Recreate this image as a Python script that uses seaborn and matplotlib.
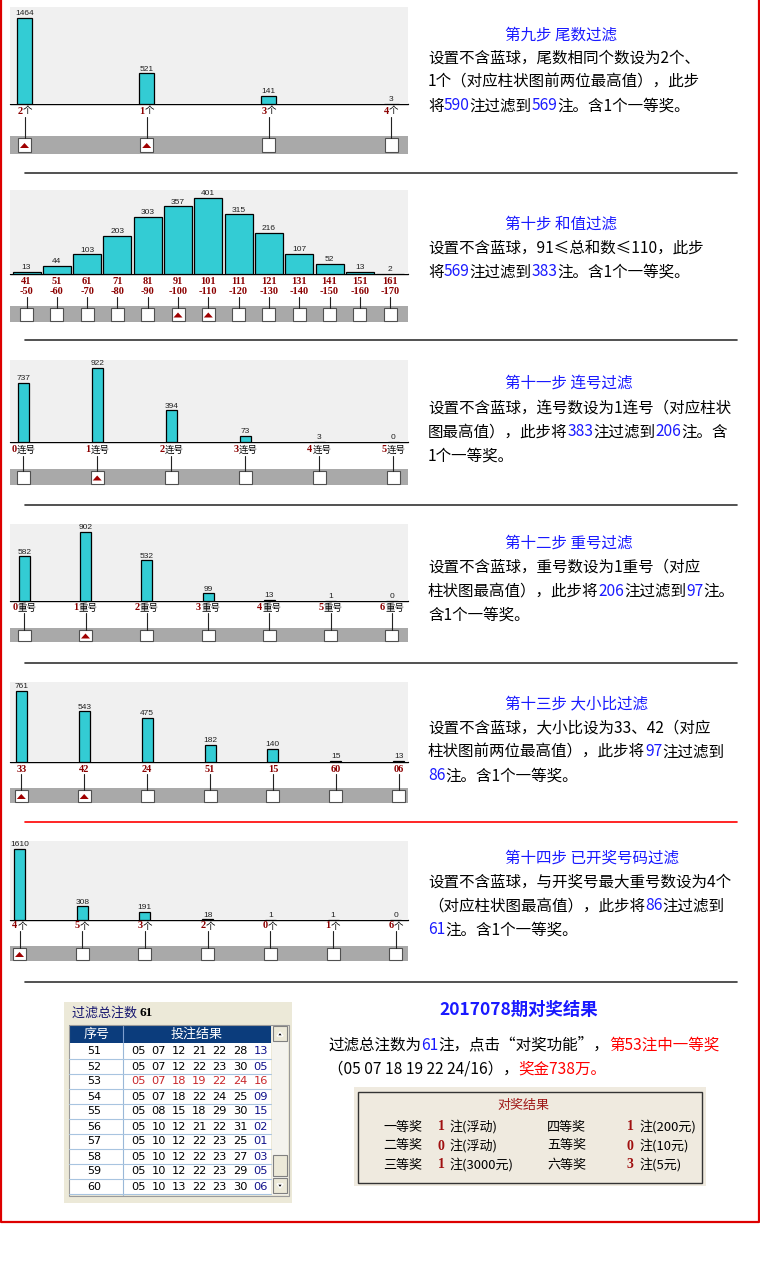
import matplotlib
matplotlib.use("Agg")  # headless rendering
import matplotlib.pyplot as plt
from matplotlib.patches import Rectangle, Polygon
import pandas as pd
import seaborn as sns

# ---- chart data -------------------------------------------------------
tail_cats = ["2", "1", "3", "4"]
tail_vals = [1464, 521, 141, 3]
tail_keep = [1, 1, 0, 0]

sum_lo = ["41", "51", "61", "71", "81", "91", "101", "111", "121", "131", "141", "151", "161"]
sum_hi = ["-50", "-60", "-70", "-80", "-90", "-100", "-110", "-120", "-130", "-140", "-150", "-160", "-170"]
sum_vals = [13, 44, 103, 203, 303, 357, 401, 315, 216, 107, 52, 13, 2]
sum_keep = [0, 0, 0, 0, 0, 1, 1, 0, 0, 0, 0, 0, 0]

run_cats = ["0", "1", "2", "3", "4", "5"]
run_vals = [737, 922, 394, 73, 3, 0]
run_keep = [0, 1, 0, 0, 0, 0]

rep_cats = ["0", "1", "2", "3", "4", "5", "6"]
rep_vals = [582, 902, 532, 99, 13, 1, 0]
rep_keep = [0, 1, 0, 0, 0, 0, 0]

ratio_cats = ["33", "42", "24", "51", "15", "60", "06"]
ratio_vals = [761, 543, 475, 182, 140, 15, 13]
ratio_keep = [1, 1, 0, 0, 0, 0, 0]

hit_cats = ["4", "5", "3", "2", "0", "1", "6"]
hit_vals = [1610, 308, 191, 18, 1, 1, 0]
hit_keep = [1, 0, 0, 0, 0, 0, 0]

NOTE = "柱状高代表出现概率大，勾选的为保留"

row_ids = ["51", "52", "53", "54", "55", "56", "57", "58", "59", "60"]
bets = [
    "05 07 12 21 22 28 13",
    "05 07 12 22 23 30 05",
    "05 07 18 19 22 24 16",
    "05 07 18 22 24 25 09",
    "05 08 15 18 29 30 15",
    "05 10 12 21 22 31 02",
    "05 10 12 22 23 25 01",
    "05 10 12 22 23 27 03",
    "05 10 12 22 23 29 05",
    "05 10 13 22 23 30 06",
]
win_row = "53"

prize_names = ["一等奖", "二等奖", "三等奖", "四等奖", "五等奖", "六等奖"]
prize_counts = ["1", "0", "1", "1", "0", "3"]
prize_notes = ["注(浮动)", "注(浮动)", "注(3000元)", "注(200元)", "注(10元)", "注(5元)"]

# ---- style -------------------------------------------------------------
W, H = 760, 1265
sns.set_theme(style="white")
FAM = ["Noto Sans CJK SC", "DejaVu Sans"]
plt.rcParams["font.family"] = FAM

BAR = "#33ccd4"
BG = "#f0f0f0"
STRIP = "#a9a9a9"
DRED = "#8b0000"
BLUE = "#1a1aff"
NOTEBLUE = "#2b2bff"
K = "black"

fig = plt.figure(figsize=(W / 100, H / 100), dpi=100)
fig.patch.set_facecolor("white")
ov = fig.add_axes([0, 0, 1, 1])
ov.set_xlim(0, W)
ov.set_ylim(H, 0)
ov.axis("off")
R = fig.canvas.get_renderer()


def px_axes(x0, y0, x1, y1):
    return fig.add_axes([x0 / W, 1 - y1 / H, (x1 - x0) / W, (y1 - y0) / H])


def rich(x, y, parts, ha="left", va="center"):
    # parts: (text, color, extra kwargs)
    texts = []
    for s, c, kw in parts:
        t = ov.text(x, y, s, color=c, ha="left", va=va, **kw)
        texts.append(t)
    widths = [t.get_window_extent(renderer=R).width for t in texts]
    start = x - sum(widths) / 2 if ha == "center" else x
    for t, w in zip(texts, widths):
        t.set_x(start)
        start += w
    return texts


NUMK = dict(fontsize=7.5, fontweight="bold", family="Liberation Serif")
SUFK = dict(fontsize=6.8, family=FAM)

panels = [
    dict(cats=tail_cats, sub=None, suffix="个", vals=tail_vals, keep=tail_keep,
         top=7, base=104, c0=24.5, step=122.2, bw=15, ly=111, conn=(117, 138),
         strip=(136, 154), box=(138, 152), ymax=1651, note_y=21),
    dict(cats=sum_lo, sub=sum_hi, suffix="", vals=sum_vals, keep=sum_keep,
         top=190, base=274, c0=26.5, step=30.3, bw=28, ly=281, conn=(297, 308),
         strip=(306, 322), box=(308, 321), ymax=443, note_y=None),
    dict(cats=run_cats, sub=None, suffix="连号", vals=run_vals, keep=run_keep,
         top=360, base=442, c0=23.2, step=74.0, bw=11, ly=450, conn=(456, 471),
         strip=(469, 485), box=(471, 484), ymax=1022, note_y=375),
    dict(cats=rep_cats, sub=None, suffix="重号", vals=rep_vals, keep=rep_keep,
         top=524, base=601, c0=24.2, step=61.3, bw=11, ly=608, conn=(613, 630),
         strip=(628, 642), box=(630, 641), ymax=1007, note_y=538),
    dict(cats=ratio_cats, sub=None, suffix="", vals=ratio_vals, keep=ratio_keep,
         top=682, base=762, c0=21.3, step=62.9, bw=11, ly=769, conn=(774, 790),
         strip=(788, 803), box=(790, 802), ymax=857, note_y=697),
    dict(cats=hit_cats, sub=None, suffix="个", vals=hit_vals, keep=hit_keep,
         top=841, base=920, c0=19.5, step=62.7, bw=11, ly=926, conn=(931, 948),
         strip=(946, 961), box=(948, 960), ymax=1791, note_y=856),
]

for p in panels:
    ax = px_axes(10, p["top"], 408, p["base"])
    df = pd.DataFrame({"cat": p["cats"], "val": p["vals"]})
    sns.barplot(data=df, x="cat", y="val", order=p["cats"], color=BAR, saturation=1,
                edgecolor="black", linewidth=0.9, width=p["bw"] / p["step"], ax=ax)
    ax.set_xlim((10 - p["c0"]) / p["step"], (408 - p["c0"]) / p["step"])
    ax.set_ylim(0, p["ymax"])
    ax.set_facecolor(BG)
    ax.set_xticks([])
    ax.set_yticks([])
    ax.set_xlabel("")
    ax.set_ylabel("")
    for s in ax.spines.values():
        s.set_visible(False)
    ax.bar_label(ax.containers[0], padding=0.5, fontsize=6, color="#222222",
                 family="Liberation Sans")

    # baseline and check strip
    ov.plot([10, 408], [p["base"], p["base"]], color="black", lw=1)
    s0, s1 = p["strip"]
    ov.add_patch(Rectangle((10, s0), 398, s1 - s0, fc=STRIP, ec="none"))
    b0, b1 = p["box"]
    for k, cat in enumerate(p["cats"]):
        cx = p["c0"] + k * p["step"]
        if p["sub"] is None:
            parts = [(cat, DRED, NUMK)]
            if p["suffix"]:
                parts.append((p["suffix"], K, SUFK))
            rich(cx, p["ly"], parts, ha="center")
        else:
            ov.text(cx, p["ly"], cat, color=DRED, ha="center", va="center", **NUMK)
            ov.text(cx, p["ly"] + 11, p["sub"][k], color=DRED, ha="center", va="center", **NUMK)
        ov.plot([cx, cx], p["conn"], color="#222222", lw=0.8)
        ov.add_patch(Rectangle((cx - 6.5, b0), 13, b1 - b0, fc="white", ec="#505050", lw=0.8))
        if p["keep"][k]:
            mid = (b0 + b1) / 2
            ov.add_patch(Polygon([(cx - 4.5, mid + 3), (cx + 4.5, mid + 3), (cx, mid - 2)],
                                 closed=True, fc="#a00000", ec="none"))
    if p["note_y"] is not None:
        ov.text(402, p["note_y"], NOTE, color=NOTEBLUE, fontsize=9.3, ha="right", va="center")
    else:
        ov.text(335, 202, "柱状高代表出现概率大，", color=NOTEBLUE, fontsize=9.3, ha="center", va="center")
        ov.text(335, 216, "勾选的为保留", color=NOTEBLUE, fontsize=9.3, ha="center", va="center")

# ---- right-hand explanations -----------------------------------------
steps = [
    ("第九步 尾数过滤", 35, [58, 82, 106], [
        [("设置不含蓝球，尾数相同个数设为2个、", K)],
        [("1个（对应柱状图前两位最高值），此步", K)],
        [("将", K), ("590", BLUE), ("注过滤到", K), ("569", BLUE), ("注。含1个一等奖。", K)]]),
    ("第十步 和值过滤", 224, [248, 272], [
        [("设置不含蓝球，91≤总和数≤110，此步", K)],
        [("将", K), ("569", BLUE), ("注过滤到", K), ("383", BLUE), ("注。含1个一等奖。", K)]]),
    ("第十一步 连号过滤", 383, [408, 432, 456], [
        [("设置不含蓝球，连号数设为1连号（对应柱状", K)],
        [("图最高值），此步将", K), ("383", BLUE), ("注过滤到", K), ("206", BLUE), ("注。含", K)],
        [("1个一等奖。", K)]]),
    ("第十二步 重号过滤", 543, [567, 591, 615], [
        [("设置不含蓝球，重号数设为1重号（对应", K)],
        [("柱状图最高值），此步将", K), ("206", BLUE), ("注过滤到", K), ("97", BLUE), ("注。", K)],
        [("含1个一等奖。", K)]]),
    ("第十三步 大小比过滤", 704, [728, 752, 776], [
        [("设置不含蓝球，大小比设为33、42（对应", K)],
        [("柱状图前两位最高值），此步将", K), ("97", BLUE), ("注过滤到", K)],
        [("86", BLUE), ("注。含1个一等奖。", K)]]),
    ("第十四步 已开奖号码过滤", 858, [882, 906, 930], [
        [("设置不含蓝球，与开奖号最大重号数设为4个", K)],
        [("（对应柱状图最高值），此步将", K), ("86", BLUE), ("注过滤到", K)],
        [("61", BLUE), ("注。含1个一等奖。", K)]]),
]
BODY = dict(fontsize=11.2, family=FAM)
for title, ty, ys, lines in steps:
    ov.text(505, ty, title, color=BLUE, fontsize=11.2, ha="left", va="center")
    for y, line in zip(ys, lines):
        rich(428, y, [(s, c, BODY) for s, c in line])

# separators and frame
for y, c in [(173, "#333333"), (340, "#333333"), (505, "#333333"), (663, "#333333"),
             (822, "red"), (982, "#333333")]:
    ov.plot([25, 737], [y, y], color=c, lw=1.2)
ov.plot([1, 1, 759, 759], [0, 1222, 1222, 0], color="#dd0000", lw=1.6)

# ---- result summary --------------------------------------------------
ov.text(519, 1010, "2017078期对奖结果", color=BLUE, fontsize=12.5, fontweight="bold",
        ha="center", va="center")
rich(328, 1045, [(s, c, BODY) for s, c in [
    ("过滤总注数为", K), ("61", BLUE), ("注，点击“对奖功能”，", K), ("第53注中一等奖", "red")]])
rich(328, 1069, [(s, c, BODY) for s, c in [
    ("（05 07 18 19 22 24/16），", K), ("奖金738万。", "red")]])

# ---- bet list widget -------------------------------------------------
ov.add_patch(Rectangle((64, 1002), 228, 201, fc="#ece9d8", ec="none"))
rich(72, 1013, [("过滤总注数 ", "#14146e", dict(fontsize=9.4, family=FAM)),
                ("61", K, dict(fontsize=9.5, fontweight="bold", family="Liberation Serif"))])
ov.add_patch(Rectangle((69, 1043), 202, 152, fc="white", ec="none"))
ov.add_patch(Rectangle((69, 1025), 202, 18, fc="#0b3c7c", ec="none"))
ov.plot([123, 123], [1026, 1042], color="#7f9fcf", lw=0.8)
ov.text(97, 1034, "序号", color="white", fontsize=9.4, ha="center", va="center")
ov.text(197, 1034, "投注结果", color="white", fontsize=9.4, ha="center", va="center")
ov.plot([123, 123], [1043, 1195], color="#9ab8d8", lw=0.8)
for i, (rid, bet) in enumerate(zip(row_ids, bets)):
    top = 1044 + 15 * i
    ov.plot([69, 271], [top + 15, top + 15], color="#a8c4e0", lw=0.8)
    ov.text(87, top + 7.5, rid, color=K, fontsize=8, family="DejaVu Sans", va="center")
    nums = bet.split()
    for j, n in enumerate(nums):
        if rid == win_row:
            col = "#c8282c"
        elif j == len(nums) - 1:
            col = "#10108a"
        else:
            col = K
        ov.text(131 + 20.4 * j, top + 7.5, n, color=col, fontsize=8.2, family="DejaVu Sans",
                va="center")
# scrollbar
ov.add_patch(Rectangle((272, 1025), 16, 170, fc="#f4f3ee", ec="none"))
for y0 in (1026, 1178):
    ov.add_patch(Rectangle((273, y0), 14, 15, fc="#ece9d8", ec="#808080", lw=0.8))
ov.add_patch(Rectangle((273, 1155), 14, 21, fc="#ece9d8", ec="#808080", lw=0.8))
ov.add_patch(Polygon([(277, 1036), (283, 1036), (280, 1032)], closed=True, fc="black"))
ov.add_patch(Polygon([(277, 1184), (283, 1184), (280, 1188)], closed=True, fc="black"))
ov.add_patch(Rectangle((68.5, 1024.5), 220, 171, fc="none", ec="#9a9a9a", lw=0.8))

# ---- prize box --------------------------------------------------------
ov.add_patch(Rectangle((354, 1087), 352, 99, fc="#efeadf", ec="none"))
ov.add_patch(Rectangle((358, 1092), 344, 91, fc="none", ec="#333333", lw=1))
ov.text(523, 1105, "对奖结果", color="#a01818", fontsize=9.4, ha="center", va="center")
PR = dict(fontsize=9.4, family=FAM)
CNT = dict(fontsize=10, fontweight="bold", family="Liberation Serif")
for i, (nm, cnt, nt) in enumerate(zip(prize_names, prize_counts, prize_notes)):
    col, row = divmod(i, 3)
    y = 1127 + 19 * row
    xn, xc, xt = (383, 441, 449) if col == 0 else (547, 630, 640)
    ov.text(xn, y, nm, color=K, ha="left", va="center", **PR)
    ov.text(xc, y, cnt, color="#a01010", ha="center", va="center", **CNT)
    ov.text(xt, y, nt, color=K, ha="left", va="center", **PR)

fig.savefig("out.png", dpi=100)
